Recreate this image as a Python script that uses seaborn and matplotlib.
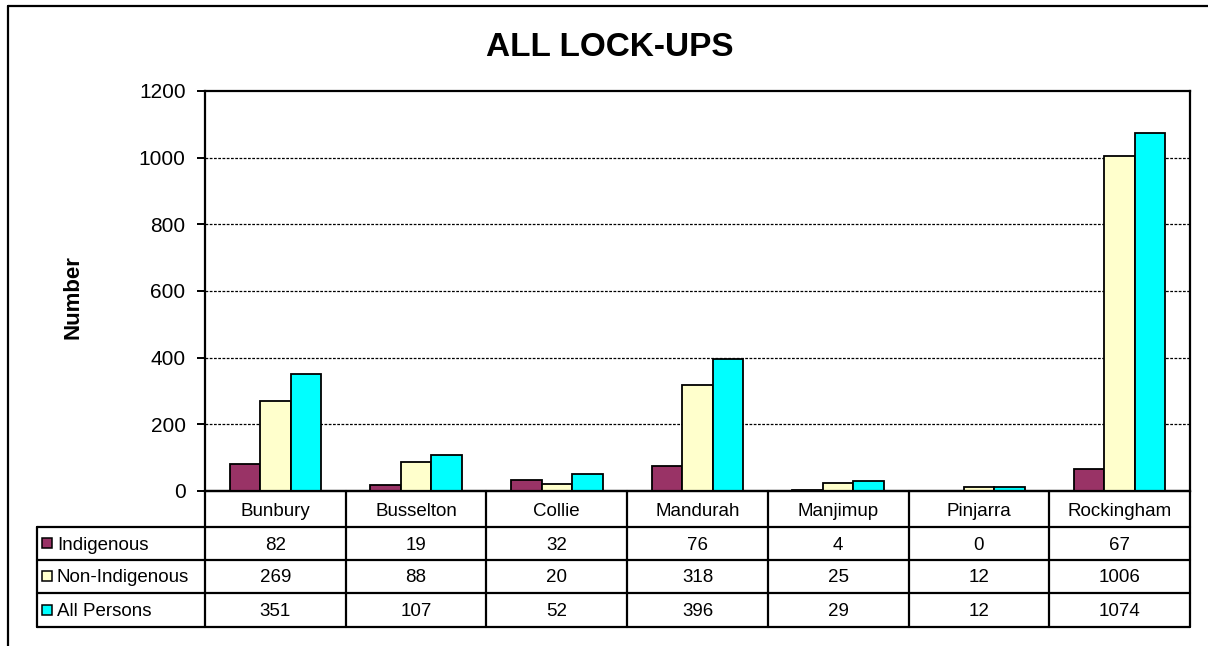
import matplotlib
matplotlib.use("Agg")
import matplotlib.pyplot as plt
import matplotlib.patches as mpatches
import numpy as np
import pandas as pd
import seaborn as sns

# Lock-up counts by location
lockups = ["Bunbury", "Busselton", "Collie", "Mandurah", "Manjimup", "Pinjarra", "Rockingham"]
groups = ["Indigenous", "Non-Indigenous", "All Persons"]
indigenous = [82, 19, 32, 76, 4, 0, 67]
non_indigenous = [269, 88, 20, 318, 25, 12, 1006]
all_persons = [351, 107, 52, 396, 29, 12, 1074]
y_ticks = [0, 200, 400, 600, 800, 1000, 1200]
colors = ["#993366", "#FFFFCC", "#00FFFF"]

series = {"Indigenous": indigenous, "Non-Indigenous": non_indigenous, "All Persons": all_persons}
df = pd.DataFrame(
    [(loc, g, series[g][i]) for g in groups for i, loc in enumerate(lockups)],
    columns=["Lock-up", "Group", "Number"],
)

sns.set_style("white")
plt.rcParams["font.family"] = ["Liberation Sans", "DejaVu Sans"]
plt.rcParams.update({
    "text.color": "black",
    "axes.labelcolor": "black",
    "xtick.color": "black",
    "ytick.color": "black",
})

W, H = 1208, 646
fig = plt.figure(figsize=(W / 100, H / 100), dpi=100)

# plot area in pixel layout
L, R, T, B = 205, 1190, 91, 491
ax = fig.add_axes([L / W, 1 - B / H, (R - L) / W, (B - T) / H])

sns.barplot(data=df, x="Lock-up", y="Number", hue="Group", hue_order=groups,
            order=lockups, palette=colors, edgecolor="black", linewidth=1.3,
            width=0.65, gap=0, saturation=1, legend=False, ax=ax, zorder=3)

ax.set_xlim(-0.5, len(lockups) - 0.5)
ax.set_ylim(0, 1200)
ax.set_yticks(y_ticks)
ax.set_yticklabels([str(v) for v in y_ticks], fontsize=15)
ax.set_xticks([])
ax.set_xlabel("")
ax.set_ylabel("Number", fontsize=16, fontweight="bold", color="black")
ax.yaxis.set_label_coords((84 - L) / (R - L), (B - 297) / (B - T))
ax.tick_params(axis="y", direction="out", length=6, width=1.4, pad=8, left=True, colors="black")
for s in ax.spines.values():
    s.set_visible(True)
    s.set_color("black")
    s.set_linewidth(1.6)
for v in y_ticks[1:-1]:
    ax.axhline(v, color="black", linestyle=(0, (2.2, 1.2)), linewidth=0.9, zorder=1)

# title
fig.text(610 / W, 1 - 48 / H, "ALL LOCK-UPS", ha="center", va="center",
         fontsize=24, fontweight="bold", color="black")

# overlay in pixel coordinates for the data table and frame
ov = fig.add_axes([0, 0, 1, 1], zorder=5)
ov.set_xlim(0, W)
ov.set_ylim(H, 0)
ov.axis("off")
ov.patch.set_alpha(0)

lw = 1.6
ncol = len(lockups)
colw = (R - L) / ncol
col_edges = [L + i * colw for i in range(ncol + 1)]
row_edges = [B, 527, 560, 593, 627]
left_x = 37

# horizontal lines
ov.plot([L, R], [row_edges[0], row_edges[0]], color="black", lw=lw)
for y in row_edges[1:]:
    ov.plot([left_x, R], [y, y], color="black", lw=lw)
# vertical lines
for x in col_edges:
    ov.plot([x, x], [row_edges[0], row_edges[-1]], color="black", lw=lw)
ov.plot([left_x, left_x], [row_edges[1], row_edges[-1]], color="black", lw=lw)

# category header
hy = (row_edges[0] + row_edges[1]) / 2 + 2
for i, name in enumerate(lockups):
    ov.text((col_edges[i] + col_edges[i + 1]) / 2, hy, name, ha="center", va="center",
            fontsize=13.5, color="black")

# data rows with legend keys
for r, g in enumerate(groups):
    yc = (row_edges[r + 1] + row_edges[r + 2]) / 2 + 1.5
    ov.add_patch(mpatches.Rectangle((42, yc - 7), 10, 10, facecolor=colors[r],
                                    edgecolor="black", lw=1.1))
    ov.text(57, yc, g, ha="left", va="center", fontsize=13.5, color="black")
    for i, v in enumerate(series[g]):
        ov.text((col_edges[i] + col_edges[i + 1]) / 2, yc, str(v), ha="center", va="center",
                fontsize=13.5, color="black")

# outer chart frame (top and left edges)
ov.plot([8, W], [6, 6], color="black", lw=1.6)
ov.plot([8, 8], [6, H], color="black", lw=1.6)

fig.savefig("out.png", dpi=100, facecolor="white")
